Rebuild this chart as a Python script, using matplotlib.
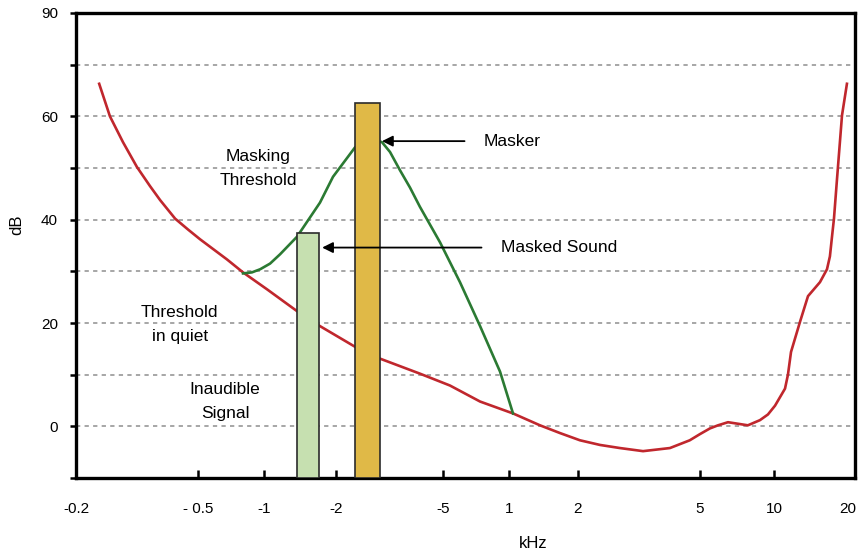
import matplotlib

matplotlib.use('Agg')
import matplotlib.pyplot as plt
import matplotlib.transforms as mtransforms
import numpy as np

plt.rcParams['font.family'] = ['Liberation Sans', 'DejaVu Sans']

# threshold in quiet (kHz, dB)
quiet_f = [0.0238, 0.0258, 0.02846, 0.0316, 0.03486, 0.0376, 0.0421, 0.04637, 0.0511, 0.0678,
           0.0802, 0.1031, 0.1374, 0.1714, 0.2354, 0.2917, 0.4102, 0.538, 0.738, 1.041,
           1.365, 1.669, 2.03, 2.36, 2.74, 3.26, 3.99, 4.63, 5.0, 5.49,
           5.92, 6.50, 7.14, 7.83, 8.77, 9.45, 10.09, 10.99, 11.27, 11.57,
           12.49, 13.38, 14.82, 15.74, 16.14, 16.43, 16.71, 17.14, 17.90, 18.67]
quiet_db = [66.3, 60.0, 55.0, 50.2, 46.5, 43.8, 40.2, 38.1, 36.2, 32.3,
            29.8, 26.5, 22.3, 19.4, 15.4, 13.1, 10.2, 7.9, 4.8, 2.5,
            0.2, -1.3, -2.7, -3.6, -4.2, -4.8, -4.2, -2.7, -1.5, -0.4,
            0.2, 0.8, 0.5, 0.2, 1.2, 2.3, 4.0, 7.3, 10.0, 14.4,
            20.2, 25.2, 27.9, 30.4, 32.9, 36.7, 40.2, 47.7, 60.2, 66.3]

# masking threshold (kHz, dB)
mask_f = [0.0802, 0.0881, 0.0960, 0.106, 0.1167, 0.1374, 0.1714, 0.1943, 0.2354, 0.263,
          0.2965, 0.3176, 0.3456, 0.3770, 0.4102, 0.4876, 0.5976, 0.738, 0.910, 1.041]
mask_db = [29.6, 29.8, 30.4, 31.5, 33.3, 36.7, 43.3, 48.3, 54.0, 55.8,
           55.0, 53.1, 49.6, 46.2, 42.5, 35.6, 27.9, 19.4, 10.6, 2.5]

# bars: (left kHz, right kHz, level dB)
masker_bar = (0.2354, 0.2917, 62.5)
masked_bar = (0.1374, 0.1699, 37.5)

x_ticks = [0.02, 0.05, 0.1, 0.2, 0.5, 1, 2, 5, 10, 20]
x_labels = ['-0.2', '- 0.5', '-1', '-2', '-5', '1', '2', '5', '10', '20']
y_ticks = [-10, 0, 10, 20, 30, 40, 50, 60, 70, 80]
y_labels = ['', '0', '', '20', '', '40', '', '60', '', '90']

# where each tick sits along the axis (the printed axis is not quite logarithmic)
tick_pos = [0, 122, 188, 260, 367, 433, 502, 624, 698, 779]
tick_log = np.log10(x_ticks)


def fwd(x):
    x = np.asarray(x, dtype=float)
    return np.interp(np.log10(np.clip(x, 1e-6, None)), tick_log, tick_pos)


def inv(p):
    p = np.asarray(p, dtype=float)
    return 10 ** np.interp(p, tick_pos, tick_log)


fig = plt.figure(figsize=(8.61, 5.53), dpi=100)
ax = fig.add_axes([0.0883, 0.1356, 0.9047, 0.8409])
ax.set_xscale('function', functions=(fwd, inv))
ax.set_xlim(0.02, 20)
ax.set_ylim(-10, 80)

for g in range(0, 80, 10):
    ax.axhline(g, color='#a6a6a6', lw=1.4, ls=(0, (2.2, 2.2)), zorder=1)

ax.plot(quiet_f, quiet_db, color='#c0272d', lw=1.9, zorder=2)
ax.plot(mask_f, mask_db, color='#2b7a33', lw=1.9, zorder=2)

for (lo, hi, lev), col in [(masked_bar, '#c6e0b0'), (masker_bar, '#e0b947')]:
    ax.bar(lo, lev + 10, width=hi - lo, bottom=-10, align='edge', color=col,
           edgecolor='#2b2b2b', lw=1.2, zorder=3)

arrow = dict(arrowstyle='-|>', color='black', lw=1.3, mutation_scale=16, shrinkA=12, shrinkB=0)
ax.annotate('Masker', xy=(0.2965, 55.2), xytext=(0.769, 55.2), ha='left', va='center',
            fontsize=12.5, arrowprops=arrow, zorder=4)
ax.annotate('Masked Sound', xy=(0.175, 34.6), xytext=(0.919, 34.6), ha='left', va='center',
            fontsize=12.5, arrowprops=arrow, zorder=4)

ax.text(0.094, 50, 'Masking\nThreshold', ha='center', va='center', fontsize=12.5, linespacing=1.75)
ax.text(0.0436, 19.8, 'Threshold\nin quiet', ha='center', va='center', fontsize=12.5, linespacing=1.75)
ax.text(0.0664, 4.8, 'Inaudible\nSignal', ha='center', va='center', fontsize=12.5, linespacing=1.75)

ax.set_xticks(x_ticks)
ax.set_xticklabels(x_labels)
ax.xaxis.set_minor_locator(matplotlib.ticker.NullLocator())
ax.set_yticks(y_ticks)
ax.set_yticklabels(y_labels)
ax.tick_params(axis='x', direction='in', length=6, width=1.8, pad=17, labelsize=11)
ax.tick_params(axis='y', direction='out', length=4, width=1.8, pad=9, labelsize=11)

# last x label sits right at the figure edge; pull it in a little
last = ax.get_xticklabels()[-1]
last.set_transform(last.get_transform() + mtransforms.ScaledTranslation(-5 / 72, 0, fig.dpi_scale_trans))

for s in ax.spines.values():
    s.set_linewidth(2.4)
    s.set_color('black')

ax.set_xlabel('kHz', fontsize=12)
ax.xaxis.set_label_coords(0.587, -0.125)
ax.set_ylabel('dB', fontsize=12)
ax.yaxis.set_label_coords(-0.066, 0.545)

fig.savefig('out.png', dpi=100)
